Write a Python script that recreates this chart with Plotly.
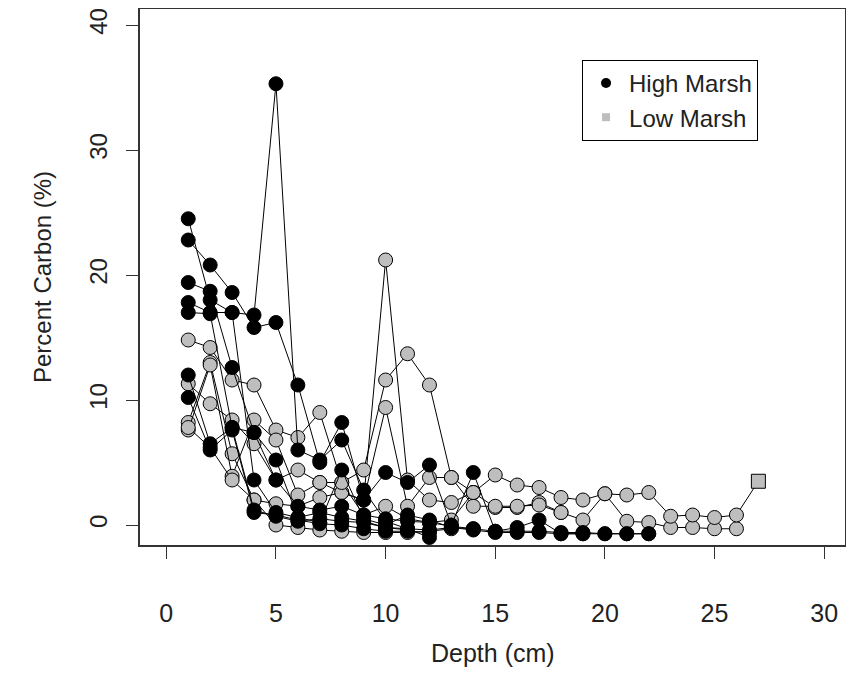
import plotly.graph_objects as go

# Percent carbon by depth (1 cm steps) for each core
high_marsh = {
    "H1": [24.5, 18.0, 17.0, 16.8, 35.3, 6.0, 5.2, 6.8, 2.8, 0.3, -0.3, -0.4, -0.2, -0.4, -0.6, -0.6, -0.6, -0.7, -0.7, -0.7, -0.7, -0.7],
    "H2": [22.8, 20.8, 18.6, 15.8, 16.2, 11.2, 5.0, 8.2, 2.0, 4.2, 3.4, 4.8, 0.0, 4.2, -0.5, -0.2, 0.4, -0.7, -0.7],
    "H3": [19.4, 18.7, 12.6, 7.4, 5.2, 0.6, 1.0, 0.6, 0.3, -0.2, -0.3, -1.0],
    "H4": [17.8, 17.0, 17.0, 3.6, 1.0, 0.6, 0.2, 4.4, 0.5, 0.0, 0.8, 0.4, -0.2, -0.3, -0.5, -0.5, -0.5, -0.6, -0.6, -0.7, -0.7, -0.7],
    "H5": [17.0, 16.9, 7.8, 1.2, 0.7, 0.3, 0.5, 0.3, 0.2, -0.2, -0.4],
    "H6": [12.0, 6.5, 7.8, 7.4, 3.6, 1.5, 1.2, 1.5, 0.8, 0.5, 0.3, 0.2, -0.1, -0.3],
    "H7": [10.2, 6.0, 7.6, 1.0, 0.8, 0.4, 0.1, 0.0, -0.3, -0.5, -0.5, -0.6],
}
low_marsh = {
    "L1": [8.2, 13.0, 5.7, 2.0, 1.7, 1.5, 2.2, 2.6, 2.0, 21.2, 3.6, 2.0, 1.8, 2.6, 1.4, 1.4, 1.8, 1.0, 0.4, 2.5, 0.3, 0.2, -0.2, -0.2, -0.3, -0.3],
    "L2": [14.8, 14.2, 11.6, 11.2, 7.6, 7.0, 9.0, 3.4, 4.4, 11.6, 13.7, 11.2, 3.8, 2.6, 4.0, 3.2, 3.0, 2.2, 2.0, 2.5, 2.4, 2.6, 0.7, 0.8, 0.6, 0.8, 3.5],
    "L3": [11.3, 9.7, 8.4, 6.5, 3.6, 4.4, 3.4, 2.6, 2.0, 9.4, 1.5, 3.8, 3.8, 1.5, 1.5, 1.5, 1.6, 1.0],
    "L4": [7.6, 12.8, 3.9, 8.4, 6.8, 2.4, 3.4, 3.4, 0.8, 1.5, 0.5, 0.2, 0.4, 2.6],
    "L5": [7.8, 6.2, 3.6, 2.0, 0.0, -0.2, -0.4, -0.5, -0.6, -0.6, -0.6, -0.5, -0.3],
}
x_ticks = [0, 5, 10, 15, 20, 25, 30]
y_ticks = [0, 10, 20, 30, 40]

BLACK = "#000000"
GRAY = "#bebebe"
FONT = "Liberation Sans, Arial, sans-serif"

fig = go.Figure()


def add_core(vals, fill, last_square=False):
    depths = list(range(1, len(vals) + 1))
    symbols = ["circle"] * len(vals)
    if last_square:
        symbols[-1] = "square"
    fig.add_trace(go.Scatter(
        x=depths, y=vals, mode="lines+markers",
        line=dict(color="black", width=1),
        marker=dict(size=14, color=fill, symbol=symbols, line=dict(color="black", width=1)),
        showlegend=False, hoverinfo="x+y",
    ))


for k, v in low_marsh.items():
    add_core(v, GRAY, last_square=(k == "L2"))
for k, v in high_marsh.items():
    add_core(v, BLACK)

# legend entries
fig.add_trace(go.Scatter(x=[None], y=[None], mode="markers", name="High Marsh",
                         marker=dict(size=10, color=BLACK, symbol="circle")))
fig.add_trace(go.Scatter(x=[None], y=[None], mode="markers", name="Low Marsh",
                         marker=dict(size=8, color=GRAY, symbol="square")))

hfont = dict(family=FONT, size=25, color="#222")
vfont = dict(family=FONT, size=24, color="#222")

fig.update_layout(
    width=838, height=661,
    margin=dict(l=132, r=1, t=1, b=124),
    paper_bgcolor="white", plot_bgcolor="white",
    font=hfont,
    xaxis=dict(range=[-1.2, 30.95], tickvals=x_ticks, ticks="outside", ticklen=12,
               tickcolor="#333", showline=True, linecolor="#333", linewidth=1.5, mirror=True,
               showgrid=False, zeroline=False, ticklabelstandoff=33, tickfont=hfont,
               automargin=False),
    yaxis=dict(range=[-1.6, 41.28], tickvals=y_ticks, ticks="outside", ticklen=12,
               tickcolor="#333", showline=True, linecolor="#333", linewidth=1.5, mirror=True,
               showgrid=False, zeroline=False, tickangle=-90, ticklabelstandoff=10, tickfont=vfont,
               automargin=False),
    legend=dict(x=0.627, y=0.905, xanchor="left", yanchor="top",
                bordercolor="black", borderwidth=1, bgcolor="white",
                font=dict(family=FONT, size=24, color="#222"),
                itemsizing="trace", itemwidth=36, tracegroupgap=0),
    annotations=[
        dict(text="Depth (cm)", xref="paper", yref="paper", x=0.5, y=0, yshift=-108,
             showarrow=False, xanchor="center", yanchor="middle", font=hfont),
        dict(text="Percent Carbon (%)", xref="paper", yref="paper", x=0, y=0.5, xshift=-98,
             showarrow=False, xanchor="center", yanchor="middle", textangle=-90, font=vfont),
    ],
)

fig.write_html("out.html")
